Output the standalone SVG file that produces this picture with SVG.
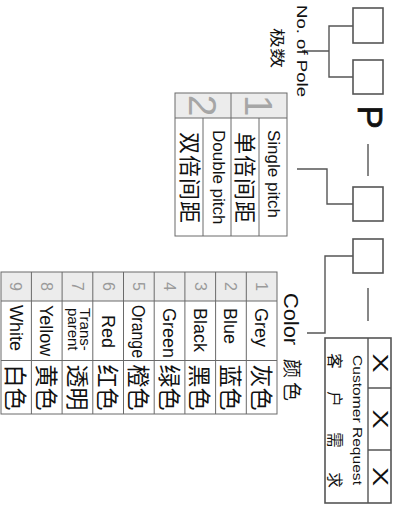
<svg xmlns="http://www.w3.org/2000/svg" width="398" height="506" viewBox="0 0 398 506">
<style>
.en{font-family:"Liberation Sans",Arial,sans-serif;fill:#111}
.zh{font-family:"Liberation Sans","Noto Sans CJK SC",sans-serif;fill:#111}
.ln{fill:none;stroke:#555;stroke-width:1.4}
.box{fill:#fff;stroke:#555;stroke-width:1.6}
.tb{fill:none;stroke:#6a6a6a;stroke-width:1}
.hd{fill:#ececec}
.dg{font-family:"Liberation Sans",Arial,sans-serif;fill:#9a9a9a;text-anchor:middle}
.ce{font-size:18px}
.cz{font-size:23px;text-anchor:middle}
</style>
<rect width="398" height="506" fill="#fff"/>
<g id="connectors">
<path class="ln" d="M302,51 H329 M353,26 H329 V77 H353"/>
<path class="ln" d="M297,169 H327 V204 H353"/>
<path class="ln" d="M307,333 H325 V256 H353"/>
<path class="ln" d="M368,144 V176 M368,288 V321"/>
</g>
<g id="pole-boxes">
<rect class="box" x="353" y="8" width="30" height="35"/>
<rect class="box" x="353" y="60" width="30" height="34"/>
</g>
<g id="pole-label">
<text class="en" font-size="14" textLength="92" lengthAdjust="spacingAndGlyphs" transform="translate(297,5) rotate(90)">No. of Pole</text>
<text class="zh" font-size="14.5" textLength="40" lengthAdjust="spacingAndGlyphs" transform="translate(271.5,28) rotate(90)">极数</text>
</g>
<g id="p-letter">
<text class="en" font-size="35" stroke="#111" stroke-width="0.7" transform="translate(358,105.5) rotate(90)">P</text>
</g>
<g id="pitch-box">
<rect class="box" x="353" y="187" width="30" height="34"/>
</g>
<g id="pitch-table">
<rect class="hd" x="175" y="93" width="112" height="25"/>
<rect class="tb" x="175" y="93" width="112" height="143"/>
<path class="tb" d="M175,118 H287 M231,93 V236 M203,118 V236 M259,118 V236"/>
<text class="dg" font-size="39" fill-opacity="0.85" transform="translate(188.5,105.5) rotate(90)">2</text>
<text class="dg" font-size="39" fill-opacity="0.85" transform="translate(245,105.5) rotate(90)">1</text>
<text class="en" font-size="17" transform="translate(267.5,130) rotate(90)">Single pitch</text>
<text class="zh" font-size="22" letter-spacing="1" transform="translate(237,132) rotate(90)">单倍间距</text>
<text class="en" font-size="17" transform="translate(213,130) rotate(90)">Double pitch</text>
<text class="zh" font-size="22" letter-spacing="1" transform="translate(182,132) rotate(90)">双倍间距</text>
</g>
<g id="color-box">
<rect class="box" x="353" y="239" width="30" height="34"/>
</g>
<g id="color-label">
<text class="en" font-size="20" textLength="52" lengthAdjust="spacingAndGlyphs" transform="translate(284,293) rotate(90)">Color</text>
<text class="zh" font-size="19" letter-spacing="4" transform="translate(284.5,359) rotate(90)">颜色</text>
</g>
<g id="color-table">
<rect class="hd" x="1" y="272" width="276" height="29"/>
<rect class="tb" x="1" y="272" width="276" height="142"/>
<path class="tb" d="M1,301 H277 M1,360.5 H277 M246.3,272 V414 M215.6,272 V414 M184.9,272 V414 M154.2,272 V414 M123.5,272 V414 M92.8,272 V414 M62.1,272 V414 M31.4,272 V414"/>
<text class="dg" font-size="16" transform="translate(256,286.5) rotate(90)">1</text>
<text class="dg" font-size="16" transform="translate(225.3,286.5) rotate(90)">2</text>
<text class="dg" font-size="16" transform="translate(194.6,286.5) rotate(90)">3</text>
<text class="dg" font-size="16" transform="translate(163.9,286.5) rotate(90)">4</text>
<text class="dg" font-size="16" transform="translate(133.2,286.5) rotate(90)">5</text>
<text class="dg" font-size="16" transform="translate(102.5,286.5) rotate(90)">6</text>
<text class="dg" font-size="16" transform="translate(71.8,286.5) rotate(90)">7</text>
<text class="dg" font-size="16" transform="translate(41.1,286.5) rotate(90)">8</text>
<text class="dg" font-size="16" transform="translate(10.4,286.5) rotate(90)">9</text>
<text class="en ce" transform="translate(255,308) rotate(90)">Grey</text>
<text class="en ce" transform="translate(224.3,308) rotate(90)">Blue</text>
<text class="en ce" transform="translate(193.6,308) rotate(90)">Black</text>
<text class="en ce" transform="translate(162.9,308) rotate(90)">Green</text>
<text class="en ce" textLength="53" lengthAdjust="spacingAndGlyphs" transform="translate(132.2,305) rotate(90)">Orange</text>
<text class="en ce" transform="translate(101.5,315) rotate(90)">Red</text>
<text class="en" font-size="15" transform="translate(80,308) rotate(90)">Trans-</text>
<text class="en" font-size="15" transform="translate(68,308) rotate(90)">parent</text>
<text class="en ce" transform="translate(40.1,305) rotate(90)">Yellow</text>
<text class="en ce" transform="translate(9.5,305) rotate(90)">White</text>
<text class="zh cz" transform="translate(252.7,387.5) rotate(90)">灰色</text>
<text class="zh cz" transform="translate(222,387.5) rotate(90)">蓝色</text>
<text class="zh cz" transform="translate(191.3,387.5) rotate(90)">黑色</text>
<text class="zh cz" transform="translate(160.6,387.5) rotate(90)">绿色</text>
<text class="zh cz" transform="translate(129.9,387.5) rotate(90)">橙色</text>
<text class="zh cz" transform="translate(99.2,387.5) rotate(90)">红色</text>
<text class="zh cz" transform="translate(68.5,387.5) rotate(90)">透明</text>
<text class="zh cz" transform="translate(37.8,387.5) rotate(90)">黄色</text>
<text class="zh cz" transform="translate(7.1,387.5) rotate(90)">白色</text>
</g>
<g id="customer-request">
<rect class="box" x="325" y="338" width="66" height="165"/>
<path class="ln" d="M368,338 V503 M368,388 H391 M368,450 H391"/>
<text class="en" font-size="22" text-anchor="middle" textLength="19" lengthAdjust="spacingAndGlyphs" transform="translate(373,363) rotate(90)">X</text>
<text class="en" font-size="22" text-anchor="middle" textLength="19" lengthAdjust="spacingAndGlyphs" transform="translate(373,419) rotate(90)">X</text>
<text class="en" font-size="22" text-anchor="middle" textLength="19" lengthAdjust="spacingAndGlyphs" transform="translate(373,476.5) rotate(90)">X</text>
<text class="en" font-size="12.5" textLength="130" lengthAdjust="spacingAndGlyphs" transform="translate(352.5,355) rotate(90)">Customer Request</text>
<text class="zh" font-size="15.5" text-anchor="middle" transform="translate(328.5,361) rotate(90)">客</text>
<text class="zh" font-size="15.5" text-anchor="middle" transform="translate(328.5,399) rotate(90)">户</text>
<text class="zh" font-size="15.5" text-anchor="middle" transform="translate(328.5,440) rotate(90)">需</text>
<text class="zh" font-size="15.5" text-anchor="middle" transform="translate(328.5,480) rotate(90)">求</text>
</g>
</svg>
